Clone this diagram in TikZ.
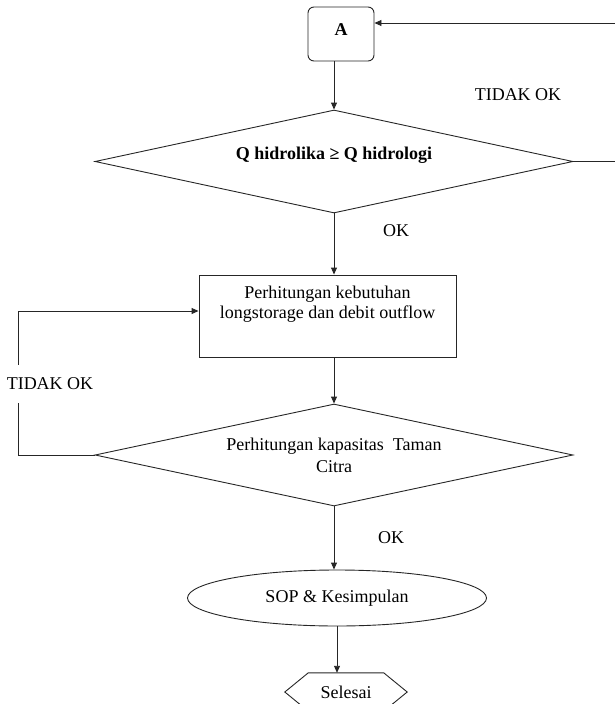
\documentclass[tikz,border=0pt]{standalone}
\usepackage{fontspec}
\setmainfont{Liberation Serif}
\usetikzlibrary{shapes.geometric,arrows.meta}
\begin{document}
\begin{tikzpicture}[x=1pt,y=-1pt,
  every node/.style={font=\fontsize{18}{20}\selectfont, text=black},
  shp/.style={draw=black!85, line width=0.9pt},
  ln/.style={draw=black!85, line width=0.9pt},
  arr/.style={ln, -{Triangle[length=7pt,width=6pt]}},
  abox/.style={shp, rounded corners=6pt, minimum width=66pt, minimum height=54pt, inner sep=0pt},
  dia/.style={shp, diamond, shape aspect=4.6, inner sep=0pt, align=center},
  pbox/.style={shp, rectangle, minimum width=257pt, minimum height=82pt, inner sep=0pt, align=center},
  ell/.style={shp, ellipse, minimum width=299pt, minimum height=56pt, inner sep=0pt},
  lbl/.style={inner sep=1pt}
]
\useasboundingbox (0,0) rectangle (614,704);

\node[abox, text height=13pt, text depth=11pt] (A) at (341,34) {\textbf{A}};
\node[dia, minimum width=478pt, minimum height=103pt, text height=13pt, text depth=18pt] (d1) at (334,161.5) {\textbf{Q hidrolika ≥ Q hidrologi}};
\node[pbox] (b2) at (327.5,316) {Perhitungan kebutuhan\\longstorage dan debit outflow\\[7pt]\mbox{}};
\node[dia, minimum width=478pt, minimum height=102pt] (d2) at (334,455) {Perhitungan kapasitas\ \ Taman\\[2pt]Citra};
\node[ell] (e) at (337,598) {SOP \& Kesimpulan};
\node[minimum width=122pt, minimum height=38pt, inner sep=0pt] (hx) at (346,692) {Selesai};
\draw[ln] (hx.west) -- ([xshift=23.5pt]hx.north west) -- ([xshift=-23.5pt]hx.north east) -- (hx.east) -- ([xshift=-23.5pt]hx.south east) -- ([xshift=23.5pt]hx.south west) -- cycle;

\node[lbl] (t1) at (518,95) {TIDAK OK};
\node[lbl] (ok1) at (396,231) {OK};
\node[lbl] (ok2) at (391,538) {OK};
\node[lbl, fill=white, minimum height=38pt] (t2) at (50,384) {TIDAK OK};

\coordinate (rx) at (616,0);
\coordinate (lx) at (18,0);

\draw[arr] (A.south -| d1.north) -- (d1.north);
\draw[arr] (d1.east) -- (d1.east -| rx) |- ([yshift=11pt]A.east);
\draw[arr] (d1.south) -- (d1.south |- b2.north);
\draw[arr] (b2.south -| d2.north) -- (d2.north);
\draw[ln] (d2.west) -| (lx |- t2.south);
\draw[arr] (lx |- t2.north) |- ([yshift=5pt]b2.west);
\draw[arr] (d2.south) -- (d2.south |- e.north);
\draw[arr] (e.south) -- (e.south |- hx.north);
\end{tikzpicture}
\end{document}
